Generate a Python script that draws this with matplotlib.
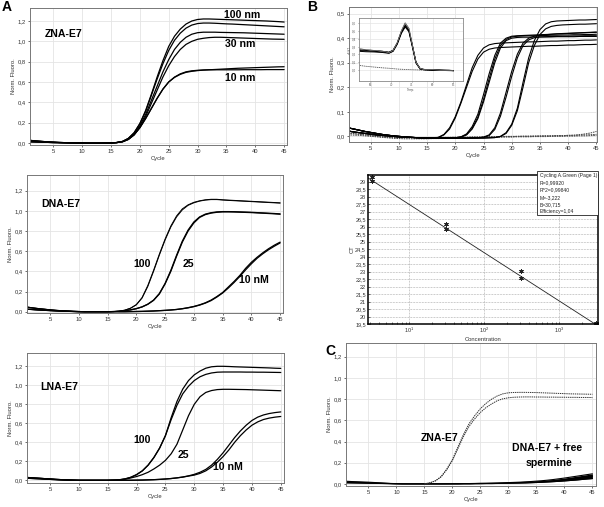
import numpy as np
import matplotlib
matplotlib.use("Agg")
import matplotlib.pyplot as plt
from matplotlib.ticker import FuncFormatter, LogLocator, NullFormatter
from matplotlib.patches import Rectangle

plt.rcParams['font.family'] = ['Liberation Sans', 'DejaVu Sans']
plt.rcParams['axes.unicode_minus'] = False

# ------------------------------------------------------------------ data
cycle_ticks = [5, 10, 15, 20, 25, 30, 35, 40, 45]
fluo_ticks = [0.0, 0.2, 0.4, 0.6, 0.8, 1.0, 1.2]
b_ticks = [0.0, 0.1, 0.2, 0.3, 0.4, 0.5]

# Panel A, ZNA-E7 (baseline cycles 1-16, rise cycles 17-45)
zna_base_a = [0.025, 0.020, 0.015, 0.011, 0.008, 0.005, 0.003, 0.001, 0.000, -0.001, -0.002, -0.002, -0.002, -0.001, 0.000, 0.004]
zna_base_b = [0.012, 0.010, 0.008, 0.006, 0.004, 0.003, 0.002, 0.001, 0.000, -0.001, -0.002, -0.002, -0.002, -0.001, 0.000, 0.004]
zna_100a = [0.015, 0.045, 0.10, 0.19, 0.32, 0.48, 0.65, 0.81, 0.95,
            1.05, 1.12, 1.17, 1.20, 1.215, 1.22, 1.22, 1.218, 1.216, 1.214,
            1.212, 1.21, 1.208, 1.206, 1.204, 1.202, 1.20, 1.197, 1.194, 1.19]
zna_100b = [0.015, 0.045, 0.10, 0.19, 0.31, 0.47, 0.63, 0.78, 0.91,
            1.01, 1.08, 1.13, 1.16, 1.175, 1.18, 1.18, 1.178, 1.175, 1.172,
            1.17, 1.167, 1.164, 1.161, 1.158, 1.155, 1.152, 1.149, 1.146, 1.143]
zna_30a = [0.015, 0.04, 0.09, 0.17, 0.28, 0.42, 0.56, 0.70, 0.82,
           0.92, 0.99, 1.04, 1.07, 1.085, 1.09, 1.09, 1.09, 1.088, 1.087,
           1.086, 1.085, 1.084, 1.082, 1.08, 1.078, 1.076, 1.074, 1.072, 1.07]
zna_30b = [0.012, 0.035, 0.08, 0.155, 0.26, 0.39, 0.52, 0.65, 0.76,
           0.85, 0.92, 0.97, 1.0, 1.02, 1.03, 1.037, 1.04, 1.04, 1.038,
           1.036, 1.034, 1.032, 1.03, 1.028, 1.026, 1.024, 1.022, 1.021, 1.02]
zna_10a = [0.012, 0.035, 0.08, 0.15, 0.24, 0.34, 0.44, 0.53, 0.60,
           0.645, 0.675, 0.695, 0.705, 0.712, 0.717, 0.72, 0.723, 0.726, 0.729,
           0.732, 0.735, 0.737, 0.739, 0.741, 0.743, 0.745, 0.747, 0.749, 0.75]
zna_10b = [0.012, 0.035, 0.08, 0.15, 0.24, 0.34, 0.44, 0.53, 0.60,
           0.648, 0.68, 0.70, 0.71, 0.715, 0.718, 0.72, 0.72, 0.72, 0.72,
           0.72, 0.72, 0.721, 0.721, 0.721, 0.721, 0.722, 0.722, 0.722, 0.722]

# Panel A, DNA-E7
dna_base_a = [0.045, 0.037, 0.030, 0.024, 0.018, 0.013, 0.009, 0.006, 0.003, 0.001, 0.0, 0.0, 0.0, 0.0, 0.0, 0.001]
dna_base_b = [0.025, 0.021, 0.017, 0.014, 0.011, 0.008, 0.006, 0.004, 0.002, 0.001, 0.0, 0.0, 0.0, 0.0, 0.0, 0.001]
dna_100a = [0.005, 0.015, 0.035, 0.07, 0.14, 0.26, 0.41, 0.57, 0.72,
            0.85, 0.95, 1.02, 1.06, 1.085, 1.10, 1.11, 1.115, 1.115, 1.11,
            1.107, 1.104, 1.101, 1.098, 1.095, 1.092, 1.089, 1.086, 1.083, 1.08]
dna_100b = [0.005, 0.015, 0.034, 0.068, 0.135, 0.25, 0.40, 0.56, 0.71,
            0.84, 0.94, 1.01, 1.055, 1.08, 1.097, 1.107, 1.112, 1.112, 1.108,
            1.104, 1.101, 1.098, 1.095, 1.092, 1.089, 1.086, 1.083, 1.08, 1.077]
dna_25a = [0.004, 0.01, 0.018, 0.03, 0.048, 0.075, 0.115, 0.18, 0.28,
           0.41, 0.56, 0.70, 0.81, 0.89, 0.94, 0.968, 0.982, 0.99, 0.993,
           0.993, 0.992, 0.99, 0.988, 0.986, 0.983, 0.98, 0.977, 0.974, 0.97]
dna_25b = [0.004, 0.01, 0.018, 0.03, 0.047, 0.073, 0.112, 0.175, 0.275,
           0.40, 0.55, 0.69, 0.80, 0.88, 0.935, 0.963, 0.978, 0.986, 0.99,
           0.99, 0.989, 0.987, 0.985, 0.983, 0.98, 0.977, 0.974, 0.971, 0.967]
dna_10a = [0.0, 0.0, 0.001, 0.002, 0.003, 0.005, 0.007, 0.01, 0.013,
           0.017, 0.022, 0.03, 0.04, 0.052, 0.068, 0.088, 0.115, 0.15, 0.19,
           0.245, 0.30, 0.36, 0.43, 0.49, 0.54, 0.585, 0.625, 0.66, 0.69]
dna_10b = [0.0, 0.0, 0.001, 0.002, 0.003, 0.005, 0.007, 0.01, 0.013,
           0.017, 0.022, 0.029, 0.038, 0.05, 0.065, 0.085, 0.11, 0.145, 0.185,
           0.235, 0.29, 0.35, 0.415, 0.475, 0.53, 0.575, 0.615, 0.65, 0.682]

# Panel A, LNA-E7
lna_base_a = [0.030, 0.026, 0.022, 0.018, 0.014, 0.010, 0.007, 0.004, 0.002, 0.0, 0.0, 0.0, 0.0, 0.0, 0.0, 0.002]
lna_base_b = [0.022, 0.019, 0.016, 0.013, 0.010, 0.007, 0.005, 0.003, 0.001, 0.0, 0.0, 0.0, 0.0, 0.0, 0.0, 0.001]
lna_100a = [0.006, 0.015, 0.032, 0.06, 0.10, 0.16, 0.24, 0.34, 0.47,
            0.66, 0.83, 0.96, 1.05, 1.11, 1.15, 1.18, 1.195, 1.20, 1.20,
            1.198, 1.195, 1.193, 1.191, 1.189, 1.187, 1.185, 1.183, 1.18, 1.178]
lna_100b = [0.006, 0.015, 0.032, 0.06, 0.10, 0.16, 0.24, 0.34, 0.47,
            0.64, 0.79, 0.91, 0.99, 1.05, 1.09, 1.115, 1.13, 1.138, 1.14,
            1.14, 1.14, 1.14, 1.139, 1.139, 1.138, 1.138, 1.137, 1.136, 1.135]
lna_25 = [0.004, 0.012, 0.025, 0.04, 0.06, 0.085, 0.12, 0.16, 0.21,
          0.28, 0.38, 0.53, 0.68, 0.80, 0.88, 0.925, 0.945, 0.955, 0.958,
          0.958, 0.957, 0.956, 0.955, 0.953, 0.951, 0.949, 0.947, 0.945, 0.943]
lna_10a = [0.0, 0.001, 0.001, 0.002, 0.003, 0.005, 0.007, 0.01, 0.014,
           0.019, 0.026, 0.035, 0.047, 0.063, 0.085, 0.115, 0.16, 0.22, 0.29,
           0.37, 0.45, 0.52, 0.58, 0.63, 0.665, 0.688, 0.703, 0.713, 0.72]
lna_10b = [0.0, 0.001, 0.001, 0.002, 0.003, 0.005, 0.007, 0.01, 0.014,
           0.019, 0.026, 0.034, 0.045, 0.055, 0.073, 0.10, 0.14, 0.19, 0.25,
           0.32, 0.40, 0.47, 0.53, 0.58, 0.615, 0.64, 0.655, 0.665, 0.672]

# Panel B, amplification of a dilution series (baseline 1-16, rise 17-45)
b_base_a = [0.035, 0.030, 0.025, 0.020, 0.016, 0.012, 0.008, 0.005, 0.002, 0.0, -0.002, -0.004, -0.005, -0.006, -0.007, -0.007]
b_base_b = [0.022, 0.018, 0.015, 0.012, 0.009, 0.006, 0.004, 0.002, 0.0, -0.002, -0.003, -0.004, -0.005, -0.006, -0.007, -0.007]
b_g1a = [-0.004, 0.008, 0.035, 0.08, 0.14, 0.21, 0.28, 0.33, 0.36,
         0.373, 0.378, 0.38, 0.381, 0.382, 0.383, 0.384, 0.385, 0.385, 0.386,
         0.387, 0.388, 0.388, 0.389, 0.39, 0.39, 0.391, 0.392, 0.392, 0.393]
b_g1b = [-0.005, 0.006, 0.03, 0.075, 0.135, 0.20, 0.265, 0.315, 0.343,
         0.355, 0.36, 0.362, 0.363, 0.364, 0.365, 0.366, 0.367, 0.367, 0.368,
         0.369, 0.37, 0.37, 0.371, 0.372, 0.372, 0.373, 0.374, 0.374, 0.375]
b_g2a = [-0.007, -0.007, -0.007, -0.006, -0.002, 0.01, 0.04, 0.09, 0.17,
         0.255, 0.33, 0.38, 0.40, 0.408, 0.41, 0.411, 0.412, 0.413, 0.414,
         0.415, 0.416, 0.417, 0.418, 0.419, 0.42, 0.421, 0.422, 0.423, 0.424]
b_g2b = [-0.007, -0.007, -0.007, -0.006, -0.003, 0.007, 0.033, 0.078, 0.15,
         0.235, 0.315, 0.37, 0.395, 0.405, 0.408, 0.409, 0.41, 0.41, 0.411,
         0.411, 0.412, 0.412, 0.413, 0.413, 0.414, 0.414, 0.415, 0.415, 0.416]
b_g2c = [-0.007, -0.007, -0.007, -0.006, -0.003, 0.006, 0.03, 0.072, 0.14,
         0.22, 0.30, 0.36, 0.39, 0.40, 0.403, 0.404, 0.404, 0.405, 0.405,
         0.405, 0.405, 0.406, 0.406, 0.406, 0.406, 0.407, 0.407, 0.407, 0.407]
b_g3a = [-0.007, -0.007, -0.007, -0.007, -0.007, -0.007, -0.006, -0.006, -0.003,
         0.006, 0.035, 0.095, 0.18, 0.265, 0.335, 0.38, 0.40, 0.408, 0.412,
         0.414, 0.416, 0.418, 0.419, 0.42, 0.421, 0.422, 0.423, 0.424, 0.425]
b_g3b = [-0.007, -0.007, -0.007, -0.007, -0.007, -0.007, -0.007, -0.006, -0.004,
         0.003, 0.028, 0.082, 0.16, 0.245, 0.32, 0.37, 0.393, 0.402, 0.405,
         0.406, 0.407, 0.407, 0.408, 0.408, 0.409, 0.409, 0.41, 0.41, 0.41]
b_g4a = [-0.007, -0.007, -0.007, -0.007, -0.007, -0.007, -0.007, -0.007, -0.007,
         -0.006, -0.005, 0.0, 0.015, 0.05, 0.115, 0.22, 0.32, 0.39, 0.435,
         0.458, 0.467, 0.47, 0.471, 0.472, 0.473, 0.474, 0.474, 0.475, 0.476]
b_g4b = [-0.007, -0.007, -0.007, -0.007, -0.007, -0.007, -0.007, -0.007, -0.007,
         -0.006, -0.005, -0.001, 0.012, 0.045, 0.105, 0.20, 0.30, 0.37, 0.415,
         0.438, 0.448, 0.452, 0.454, 0.455, 0.456, 0.457, 0.457, 0.458, 0.459]
# negative controls (cycles 1-45)
b_neg_a = [0.012, 0.01, 0.008, 0.006, 0.004, 0.002, 0.0, -0.002, -0.003, -0.004,
           -0.005, -0.006, -0.006, -0.007, -0.007, -0.007, -0.007, -0.007, -0.006, -0.006,
           -0.005, -0.005, -0.004, -0.004, -0.003, -0.003, -0.002, -0.002, -0.001, -0.001,
           0.0, 0.0, 0.0, 0.001, 0.001, 0.002, 0.002, 0.003, 0.003, 0.004,
           0.005, 0.007, 0.01, 0.014, 0.02]
b_neg_b = [0.006, 0.005, 0.004, 0.002, 0.0, -0.002, -0.004, -0.006, -0.008, -0.009,
           -0.01, -0.01, -0.01, -0.01, -0.01, -0.009, -0.009, -0.008, -0.008, -0.007,
           -0.007, -0.006, -0.006, -0.005, -0.005, -0.004, -0.004, -0.003, -0.003, -0.003,
           -0.002, -0.002, -0.002, -0.001, -0.001, -0.001, 0.0, 0.0, 0.0, 0.001,
           0.001, 0.002, 0.002, 0.003, 0.004]
b_neg_c = [0.015, 0.012, 0.009, 0.006, 0.003, 0.0, -0.002, -0.004, -0.005, -0.006,
           -0.006, -0.006, -0.006, -0.005, -0.005, -0.005, -0.004, -0.004, -0.004, -0.003,
           -0.003, -0.003, -0.002, -0.002, -0.002, -0.001, -0.001, -0.001, 0.0, 0.0,
           0.0, 0.001, 0.001, 0.001, 0.002, 0.002, 0.002, 0.003, 0.003, 0.004,
           0.004, 0.005, 0.006, 0.007, 0.008]

# Panel B inset: melting curves
melt_temp = [62.5, 64, 66, 68, 69.5, 70.5, 71.5, 72.5, 73.4, 74.3, 75.2, 76, 77, 78, 80, 82, 84, 85]
melt_a = [0.27, 0.26, 0.25, 0.24, 0.225, 0.25, 0.35, 0.50, 0.60, 0.53, 0.30, 0.10, 0.02, 0.01, 0.005, 0.0, 0.0, -0.005]
melt_b = [0.25, 0.245, 0.24, 0.232, 0.22, 0.245, 0.34, 0.48, 0.56, 0.50, 0.29, 0.10, 0.02, 0.008, 0.003, 0.0, -0.003, -0.005]
melt_c = [0.24, 0.235, 0.232, 0.225, 0.215, 0.24, 0.33, 0.47, 0.55, 0.49, 0.28, 0.09, 0.015, 0.005, 0.0, -0.002, -0.005, -0.006]
melt_d = [0.26, 0.252, 0.248, 0.24, 0.23, 0.255, 0.345, 0.49, 0.575, 0.51, 0.30, 0.10, 0.018, 0.007, 0.003, 0.0, -0.003, -0.005]
melt_neg = [0.06, 0.05, 0.04, 0.03, 0.025, 0.02, 0.015, 0.012, 0.01, 0.008, 0.006, 0.005, 0.003, 0.002, 0.0, -0.002, -0.004, -0.005]
melt_xticks = [65, 70, 75, 80, 85]
melt_yticks = [0.0, 0.1, 0.2, 0.3, 0.4, 0.5, 0.6]

# Panel B standard curve
std_conc = [3.16, 3.16, 31.6, 31.6, 316, 316, 3160, 3160]
std_ct = [29.33, 29.05, 26.2, 25.87, 23.02, 22.57, 19.55, 19.52]
fit_M = -3.222
fit_B = 30.715
ct_ticks = [19.5, 20, 20.5, 21, 21.5, 22, 22.5, 23, 23.5, 24, 24.5, 25, 25.5,
            26, 26.5, 27, 27.5, 28, 28.5, 29]
std_box_lines = ["Cycling A.Green (Page 1)", "R=0,99920", "R^2=0,99840",
                 "M=-3,222", "B=30,715", "Efficiency=1,04"]

# Panel C
c_zna_a = [0.0, 0.01, 0.03, 0.07, 0.14, 0.23, 0.35, 0.47, 0.57, 0.645,
           0.71, 0.76, 0.80, 0.83, 0.85, 0.86, 0.863, 0.864, 0.864, 0.863,
           0.862, 0.86, 0.858, 0.856, 0.854, 0.852, 0.85, 0.849, 0.848, 0.847, 0.846]
c_zna_b = [0.0, 0.01, 0.029, 0.067, 0.135, 0.22, 0.335, 0.45, 0.545, 0.615,
           0.675, 0.72, 0.755, 0.785, 0.803, 0.813, 0.818, 0.82, 0.821, 0.821,
           0.82, 0.82, 0.819, 0.819, 0.818, 0.818, 0.817, 0.817, 0.816, 0.816, 0.815]
c_sp_a = [0.025, 0.022, 0.02, 0.018, 0.016, 0.013, 0.01, 0.007, 0.004, 0.002,
          0.001, 0.0, 0.0, 0.0, 0.0, 0.0, 0.0, 0.0, 0.001, 0.001,
          0.002, 0.002, 0.003, 0.004, 0.005, 0.006, 0.007, 0.008, 0.01, 0.012,
          0.014, 0.016, 0.019, 0.022, 0.026, 0.03, 0.035, 0.041, 0.048, 0.055,
          0.063, 0.071, 0.079, 0.087, 0.095]
c_sp_b = [0.018, 0.016, 0.015, 0.013, 0.011, 0.009, 0.007, 0.005, 0.003, 0.001,
          0.0, 0.0, 0.0, 0.0, 0.0, 0.0, 0.0, 0.0, 0.0, 0.001,
          0.001, 0.002, 0.002, 0.003, 0.004, 0.004, 0.005, 0.006, 0.007, 0.009,
          0.01, 0.012, 0.014, 0.016, 0.019, 0.022, 0.026, 0.03, 0.035, 0.04,
          0.046, 0.052, 0.058, 0.065, 0.072]
c_sp_c = [0.01, 0.009, 0.008, 0.007, 0.006, 0.005, 0.004, 0.003, 0.002, 0.001,
          0.0, 0.0, 0.0, 0.0, 0.0, 0.0, 0.0, 0.0, 0.0, 0.0,
          0.0, 0.001, 0.001, 0.002, 0.002, 0.003, 0.003, 0.004, 0.005, 0.006,
          0.007, 0.008, 0.009, 0.011, 0.013, 0.015, 0.018, 0.021, 0.024, 0.028,
          0.032, 0.036, 0.041, 0.046, 0.05]

# ------------------------------------------------------------------ figure
W, H = 604, 507
fig = plt.figure(figsize=(W / 100, H / 100), dpi=100)


def px_axes(l, t, r, b):
    return fig.add_axes([l / W, 1 - b / H, (r - l) / W, (b - t) / H])


def fx(x):
    return x / W


def fy(y):
    return 1 - y / H


def comma(v, p):
    return f"{v:.1f}".replace('.', ',')


def ct_fmt(v, p):
    if abs(v - round(v)) < 1e-6:
        return f"{int(round(v))}"
    return f"{v:.1f}".replace('.', ',')


TFS = 4.2
TC = '#333333'


def style_qpcr(ax, xlim, ylim, yticks):
    ax.set_xlim(xlim)
    ax.set_ylim(ylim)
    ax.set_xticks(cycle_ticks)
    ax.set_yticks(yticks)
    ax.yaxis.set_major_formatter(FuncFormatter(comma))
    ax.grid(True, color='#e4e4e4', lw=0.6)
    ax.set_axisbelow(True)
    ax.tick_params(labelsize=TFS, length=1.5, width=0.5, pad=1.5, colors=TC)
    for s in ax.spines.values():
        s.set_color('#777777')
        s.set_linewidth(0.7)
    ax.set_xlabel('Cycle', fontsize=TFS, labelpad=1.2, color=TC)
    ax.set_ylabel('Norm. Fluoro.', fontsize=TFS, labelpad=1.2, color=TC)


LINE = dict(color='black', lw=0.9, solid_capstyle='round', solid_joinstyle='round')


def curve(ax, y, start=1, **kw):
    x = np.arange(start, start + len(y))
    style = dict(LINE)
    style.update(kw)
    ax.plot(x, y, **style)


def label(x, y, s, size=7.6):
    fig.text(fx(x), fy(y), s, ha='center', va='center', fontsize=size,
             fontweight='bold', color='black')


# ---- A1 ZNA-E7
a1 = px_axes(30, 8, 287, 145)
style_qpcr(a1, (0.96, 45.5), (-0.02, 1.328), fluo_ticks)
for base, rise in [(zna_base_a, zna_100a), (zna_base_b, zna_100b),
                   (zna_base_a, zna_30a), (zna_base_b, zna_30b),
                   (zna_base_a, zna_10a), (zna_base_b, zna_10b)]:
    curve(a1, base + rise)
label(64, 34, 'ZNA-E7')
label(242.5, 15, '100 nm')
label(240, 44, '30 nm')
label(240, 78, '10 nm')

# ---- A2 DNA-E7
a2 = px_axes(27, 175, 283, 313)
style_qpcr(a2, (1.0, 45.5), (-0.013, 1.356), fluo_ticks)
curve(a2, dna_base_a + dna_100a, lw=0.7)
curve(a2, dna_base_b + dna_100b, lw=0.7)
curve(a2, dna_base_a + dna_25a)
curve(a2, dna_base_b + dna_25b)
curve(a2, dna_base_a + dna_10a)
curve(a2, dna_base_b + dna_10b)
label(61, 204, 'DNA-E7')
label(142, 264, '100')
label(188, 264, '25')
label(254, 280, '10 nM')

# ---- A3 LNA-E7
a3 = px_axes(27, 353, 284, 483)
style_qpcr(a3, (1.0, 45.56), (-0.028, 1.34), fluo_ticks)
curve(a3, lna_base_a + lna_100a)
curve(a3, lna_base_b + lna_100b)
curve(a3, lna_base_a + lna_25)
curve(a3, lna_base_a + lna_10a)
curve(a3, lna_base_b + lna_10b)
label(59.5, 387, 'LNA-E7')
label(142, 440, '100')
label(183, 455, '25')
label(228, 467, '10 nM')

# ---- B1 amplification
b1 = px_axes(349, 7, 597, 142)
style_qpcr(b1, (1.18, 45.1), (-0.023, 0.527), b_ticks)
for neg in [b_neg_a, b_neg_b, b_neg_c]:
    b1.plot(np.arange(1, 1 + len(neg)), neg, color='#444444', lw=0.7,
            ls=(0, (1.6, 0.9)))
pairs = [(b_base_a, b_g1a), (b_base_b, b_g1b), (b_base_a, b_g2a),
         (b_base_b, b_g2b), (b_base_a, b_g2c), (b_base_b, b_g3a),
         (b_base_a, b_g3b), (b_base_b, b_g4a), (b_base_a, b_g4b)]
for base, rise in pairs:
    curve(b1, base + rise, lw=0.8)

# inset melt curve
bi = px_axes(359, 18, 463, 81)
bi.set_xlim(62.3, 87.3)
bi.set_ylim(-0.137, 0.664)
bi.set_xticks(melt_xticks)
bi.set_yticks(melt_yticks)
bi.xaxis.set_major_formatter(FuncFormatter(lambda v, p: f"{int(v)}"))
bi.yaxis.set_major_formatter(FuncFormatter(comma))
bi.tick_params(labelsize=2.2, length=1, width=0.4, pad=0.8, colors='#555555')
bi.grid(True, color='#e4e4e4', lw=0.5)
bi.set_axisbelow(True)
for s in bi.spines.values():
    s.set_color('#888888')
    s.set_linewidth(0.6)
bi.set_xlabel('Temp.', fontsize=2.2, labelpad=0.3, color='#555555')
bi.set_ylabel('dF/dT', fontsize=2.2, labelpad=0.3, color='#555555')
bi.plot(melt_temp, melt_neg, color='#555555', lw=0.6, ls=(0, (1.5, 0.8)))
for m in [melt_a, melt_b, melt_c, melt_d]:
    bi.plot(melt_temp, m, color='black', lw=0.7)
bi.plot(melt_temp, melt_a, color='white', lw=0.25)

# ---- B2 standard curve
b2 = px_axes(368, 175, 598, 324)
b2.set_xscale('log')
b2.set_xlim(10 ** 0.453, 10 ** 3.52)
b2.set_ylim(19.5, 29.45)
b2.set_yticks(ct_ticks)
b2.yaxis.set_major_formatter(FuncFormatter(ct_fmt))
b2.xaxis.set_major_locator(LogLocator(base=10, numticks=10))
b2.xaxis.set_minor_locator(LogLocator(base=10, subs=np.arange(2, 10), numticks=10))
b2.xaxis.set_minor_formatter(NullFormatter())
b2.grid(True, which='major', color='#999999', lw=0.5, ls=(0, (1, 1.2)))
b2.set_axisbelow(True)
b2.tick_params(which='both', labelsize=4.0, length=1.5, width=0.5, pad=1.5,
               colors=TC, direction='in')
for s in b2.spines.values():
    s.set_color('black')
    s.set_linewidth(1.1)
xl = np.array(b2.get_xlim())
b2.plot(xl, fit_M * np.log10(xl) + fit_B, color='#222222', lw=0.6)
b2.plot(std_conc, std_ct, ls='none', marker=(6, 2, 0), ms=3.2, mew=0.7,
        color='#222222')
b2.set_xlabel('Concentration', fontsize=TFS, labelpad=1.0, color=TC)
b2.set_ylabel('CT', fontsize=TFS, labelpad=0.5, color=TC)

box = Rectangle((fx(537), fy(215)), (597.7 - 537) / W, (215 - 171) / H,
                transform=fig.transFigure, facecolor='white', edgecolor='#222222',
                lw=0.6, zorder=20)
fig.add_artist(box)
for i, line in enumerate(std_box_lines):
    t = line.replace('R^2', 'R^2')
    fig.text(fx(539.5), fy(175.7 + i * 7.2), t, ha='left', va='center',
             fontsize=3.6, color='#222222', zorder=21)

# ---- C
c = px_axes(346, 343, 596, 486)
style_qpcr(c, (1.0, 45.64), (-0.02, 1.33), fluo_ticks)
cx = np.arange(1, 46)
c.fill_between(cx, c_sp_c, c_sp_a, color='black', lw=0)
for sp in [c_sp_a, c_sp_b, c_sp_c]:
    curve(c, sp, lw=0.8)
for z in [c_zna_a, c_zna_b]:
    c.plot(np.arange(15, 15 + len(z)), z, color='#333333', lw=0.7,
           ls=(0, (1.4, 0.8)))
label(440, 438, 'ZNA-E7')
label(547, 448, 'DNA-E7 + free')
label(549, 463, 'spermine')

# panel letters
label(7, 7, 'A', size=10)
label(312, 7, 'B', size=10)
label(330, 351, 'C', size=10)

fig.savefig('out.png', dpi=100)
